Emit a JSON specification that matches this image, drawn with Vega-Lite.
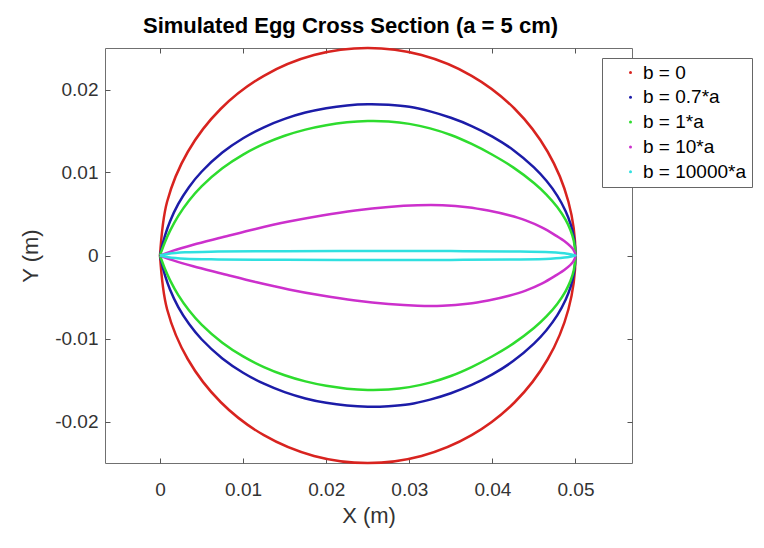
{
  "$schema": "https://vega.github.io/schema/vega-lite/v6.json",
  "width": 527,
  "height": 415,
  "autosize": {"type": "none"},
  "padding": {"left": 105, "top": 48, "right": 132, "bottom": 85},
  "background": "white",
  "title": {"text": "Simulated Egg Cross Section (a = 5 cm)", "fontSize": 22, "fontWeight": "bold", "font": "Liberation Sans", "color": "#000000", "anchor": "middle", "dx": -18, "offset": 5},
  "data": {"values": [
    {"b":"b = 0","i":0,"x":0,"y":0},
    {"b":"b = 0","i":1,"x":0.000852,"y":0.00647},
    {"b":"b = 0","i":2,"x":0.00335,"y":0.0125},
    {"b":"b = 0","i":3,"x":0.00732,"y":0.01768},
    {"b":"b = 0","i":4,"x":0.0125,"y":0.02165},
    {"b":"b = 0","i":5,"x":0.01853,"y":0.02415},
    {"b":"b = 0","i":6,"x":0.025,"y":0.025},
    {"b":"b = 0","i":7,"x":0.03147,"y":0.02415},
    {"b":"b = 0","i":8,"x":0.0375,"y":0.02165},
    {"b":"b = 0","i":9,"x":0.04268,"y":0.01768},
    {"b":"b = 0","i":10,"x":0.04665,"y":0.0125},
    {"b":"b = 0","i":11,"x":0.04915,"y":0.00647},
    {"b":"b = 0","i":12,"x":0.05,"y":0},
    {"b":"b = 0","i":13,"x":0.04915,"y":-0.00647},
    {"b":"b = 0","i":14,"x":0.04665,"y":-0.0125},
    {"b":"b = 0","i":15,"x":0.04268,"y":-0.01768},
    {"b":"b = 0","i":16,"x":0.0375,"y":-0.02165},
    {"b":"b = 0","i":17,"x":0.03147,"y":-0.02415},
    {"b":"b = 0","i":18,"x":0.025,"y":-0.025},
    {"b":"b = 0","i":19,"x":0.01853,"y":-0.02415},
    {"b":"b = 0","i":20,"x":0.0125,"y":-0.02165},
    {"b":"b = 0","i":21,"x":0.00732,"y":-0.01768},
    {"b":"b = 0","i":22,"x":0.00335,"y":-0.0125},
    {"b":"b = 0","i":23,"x":0.000852,"y":-0.00647},
    {"b":"b = 0","i":24,"x":0,"y":0},

    {"b":"b = 0.7*a","i":0,"x":0,"y":0},
    {"b":"b = 0.7*a","i":1,"x":0.0002,"y":0.00091},
    {"b":"b = 0.7*a","i":2,"x":0.0006,"y":0.00239},
    {"b":"b = 0.7*a","i":3,"x":0.0012,"y":0.00409},
    {"b":"b = 0.7*a","i":4,"x":0.0022,"y":0.00621},
    {"b":"b = 0.7*a","i":5,"x":0.0035,"y":0.00826},
    {"b":"b = 0.7*a","i":6,"x":0.005,"y":0.01009},
    {"b":"b = 0.7*a","i":7,"x":0.0075,"y":0.0124},
    {"b":"b = 0.7*a","i":8,"x":0.01,"y":0.01412},
    {"b":"b = 0.7*a","i":9,"x":0.0125,"y":0.01545},
    {"b":"b = 0.7*a","i":10,"x":0.015,"y":0.01646},
    {"b":"b = 0.7*a","i":11,"x":0.0175,"y":0.01722},
    {"b":"b = 0.7*a","i":12,"x":0.02,"y":0.01775},
    {"b":"b = 0.7*a","i":13,"x":0.0225,"y":0.01808},
    {"b":"b = 0.7*a","i":14,"x":0.025,"y":0.01822},
    {"b":"b = 0.7*a","i":15,"x":0.0275,"y":0.01816},
    {"b":"b = 0.7*a","i":16,"x":0.03,"y":0.01792},
    {"b":"b = 0.7*a","i":17,"x":0.0325,"y":0.01736},
    {"b":"b = 0.7*a","i":18,"x":0.035,"y":0.01659},
    {"b":"b = 0.7*a","i":19,"x":0.0375,"y":0.0156},
    {"b":"b = 0.7*a","i":20,"x":0.04,"y":0.01433},
    {"b":"b = 0.7*a","i":21,"x":0.0425,"y":0.01272},
    {"b":"b = 0.7*a","i":22,"x":0.045,"y":0.01062},
    {"b":"b = 0.7*a","i":23,"x":0.0465,"y":0.009},
    {"b":"b = 0.7*a","i":24,"x":0.0478,"y":0.00722},
    {"b":"b = 0.7*a","i":25,"x":0.0488,"y":0.00537},
    {"b":"b = 0.7*a","i":26,"x":0.0494,"y":0.00382},
    {"b":"b = 0.7*a","i":27,"x":0.0498,"y":0.00221},
    {"b":"b = 0.7*a","i":28,"x":0.05,"y":0},
    {"b":"b = 0.7*a","i":29,"x":0.0498,"y":-0.00221},
    {"b":"b = 0.7*a","i":30,"x":0.0494,"y":-0.00382},
    {"b":"b = 0.7*a","i":31,"x":0.0488,"y":-0.00537},
    {"b":"b = 0.7*a","i":32,"x":0.0478,"y":-0.00722},
    {"b":"b = 0.7*a","i":33,"x":0.0465,"y":-0.009},
    {"b":"b = 0.7*a","i":34,"x":0.045,"y":-0.01062},
    {"b":"b = 0.7*a","i":35,"x":0.0425,"y":-0.01272},
    {"b":"b = 0.7*a","i":36,"x":0.04,"y":-0.01433},
    {"b":"b = 0.7*a","i":37,"x":0.0375,"y":-0.0156},
    {"b":"b = 0.7*a","i":38,"x":0.035,"y":-0.01659},
    {"b":"b = 0.7*a","i":39,"x":0.0325,"y":-0.01736},
    {"b":"b = 0.7*a","i":40,"x":0.03,"y":-0.01792},
    {"b":"b = 0.7*a","i":41,"x":0.0275,"y":-0.01816},
    {"b":"b = 0.7*a","i":42,"x":0.025,"y":-0.01822},
    {"b":"b = 0.7*a","i":43,"x":0.0225,"y":-0.01808},
    {"b":"b = 0.7*a","i":44,"x":0.02,"y":-0.01775},
    {"b":"b = 0.7*a","i":45,"x":0.0175,"y":-0.01722},
    {"b":"b = 0.7*a","i":46,"x":0.015,"y":-0.01646},
    {"b":"b = 0.7*a","i":47,"x":0.0125,"y":-0.01545},
    {"b":"b = 0.7*a","i":48,"x":0.01,"y":-0.01412},
    {"b":"b = 0.7*a","i":49,"x":0.0075,"y":-0.0124},
    {"b":"b = 0.7*a","i":50,"x":0.005,"y":-0.01009},
    {"b":"b = 0.7*a","i":51,"x":0.0035,"y":-0.00826},
    {"b":"b = 0.7*a","i":52,"x":0.0022,"y":-0.00621},
    {"b":"b = 0.7*a","i":53,"x":0.0012,"y":-0.00409},
    {"b":"b = 0.7*a","i":54,"x":0.0006,"y":-0.00239},
    {"b":"b = 0.7*a","i":55,"x":0.0002,"y":-0.00091},
    {"b":"b = 0.7*a","i":56,"x":0,"y":0},

    {"b":"b = 1*a","i":0,"x":0,"y":0},
    {"b":"b = 1*a","i":1,"x":0.0002,"y":0.00058},
    {"b":"b = 1*a","i":2,"x":0.0006,"y":0.00163},
    {"b":"b = 1*a","i":3,"x":0.0012,"y":0.00296},
    {"b":"b = 1*a","i":4,"x":0.0022,"y":0.00477},
    {"b":"b = 1*a","i":5,"x":0.0035,"y":0.00663},
    {"b":"b = 1*a","i":6,"x":0.005,"y":0.00833},
    {"b":"b = 1*a","i":7,"x":0.0075,"y":0.01051},
    {"b":"b = 1*a","i":8,"x":0.01,"y":0.01216},
    {"b":"b = 1*a","i":9,"x":0.0125,"y":0.01344},
    {"b":"b = 1*a","i":10,"x":0.015,"y":0.01443},
    {"b":"b = 1*a","i":11,"x":0.0175,"y":0.01517},
    {"b":"b = 1*a","i":12,"x":0.02,"y":0.0157},
    {"b":"b = 1*a","i":13,"x":0.0225,"y":0.01604},
    {"b":"b = 1*a","i":14,"x":0.025,"y":0.01619},
    {"b":"b = 1*a","i":15,"x":0.0275,"y":0.01614},
    {"b":"b = 1*a","i":16,"x":0.03,"y":0.01586},
    {"b":"b = 1*a","i":17,"x":0.0325,"y":0.01532},
    {"b":"b = 1*a","i":18,"x":0.035,"y":0.01452},
    {"b":"b = 1*a","i":19,"x":0.0375,"y":0.01344},
    {"b":"b = 1*a","i":20,"x":0.04,"y":0.01214},
    {"b":"b = 1*a","i":21,"x":0.0425,"y":0.01062},
    {"b":"b = 1*a","i":22,"x":0.045,"y":0.00874},
    {"b":"b = 1*a","i":23,"x":0.0465,"y":0.00734},
    {"b":"b = 1*a","i":24,"x":0.0478,"y":0.00583},
    {"b":"b = 1*a","i":25,"x":0.0488,"y":0.00431},
    {"b":"b = 1*a","i":26,"x":0.0494,"y":0.00305},
    {"b":"b = 1*a","i":27,"x":0.0498,"y":0.00176},
    {"b":"b = 1*a","i":28,"x":0.05,"y":0},
    {"b":"b = 1*a","i":29,"x":0.0498,"y":-0.00176},
    {"b":"b = 1*a","i":30,"x":0.0494,"y":-0.00305},
    {"b":"b = 1*a","i":31,"x":0.0488,"y":-0.00431},
    {"b":"b = 1*a","i":32,"x":0.0478,"y":-0.00583},
    {"b":"b = 1*a","i":33,"x":0.0465,"y":-0.00734},
    {"b":"b = 1*a","i":34,"x":0.045,"y":-0.00874},
    {"b":"b = 1*a","i":35,"x":0.0425,"y":-0.01062},
    {"b":"b = 1*a","i":36,"x":0.04,"y":-0.01214},
    {"b":"b = 1*a","i":37,"x":0.0375,"y":-0.01344},
    {"b":"b = 1*a","i":38,"x":0.035,"y":-0.01452},
    {"b":"b = 1*a","i":39,"x":0.0325,"y":-0.01532},
    {"b":"b = 1*a","i":40,"x":0.03,"y":-0.01586},
    {"b":"b = 1*a","i":41,"x":0.0275,"y":-0.01614},
    {"b":"b = 1*a","i":42,"x":0.025,"y":-0.01619},
    {"b":"b = 1*a","i":43,"x":0.0225,"y":-0.01604},
    {"b":"b = 1*a","i":44,"x":0.02,"y":-0.0157},
    {"b":"b = 1*a","i":45,"x":0.0175,"y":-0.01517},
    {"b":"b = 1*a","i":46,"x":0.015,"y":-0.01443},
    {"b":"b = 1*a","i":47,"x":0.0125,"y":-0.01344},
    {"b":"b = 1*a","i":48,"x":0.01,"y":-0.01216},
    {"b":"b = 1*a","i":49,"x":0.0075,"y":-0.01051},
    {"b":"b = 1*a","i":50,"x":0.005,"y":-0.00833},
    {"b":"b = 1*a","i":51,"x":0.0035,"y":-0.00663},
    {"b":"b = 1*a","i":52,"x":0.0022,"y":-0.00477},
    {"b":"b = 1*a","i":53,"x":0.0012,"y":-0.00296},
    {"b":"b = 1*a","i":54,"x":0.0006,"y":-0.00163},
    {"b":"b = 1*a","i":55,"x":0.0002,"y":-0.00058},
    {"b":"b = 1*a","i":56,"x":0,"y":0},

    {"b":"b = 10*a","i":0,"x":0,"y":0},
    {"b":"b = 10*a","i":1,"x":0.0015,"y":0.00055},
    {"b":"b = 10*a","i":2,"x":0.004,"y":0.0013},
    {"b":"b = 10*a","i":3,"x":0.0075,"y":0.00219},
    {"b":"b = 10*a","i":4,"x":0.0115,"y":0.0032},
    {"b":"b = 10*a","i":5,"x":0.0155,"y":0.00409},
    {"b":"b = 10*a","i":6,"x":0.0195,"y":0.00483},
    {"b":"b = 10*a","i":7,"x":0.0235,"y":0.00543},
    {"b":"b = 10*a","i":8,"x":0.0275,"y":0.00585},
    {"b":"b = 10*a","i":9,"x":0.031,"y":0.00605},
    {"b":"b = 10*a","i":10,"x":0.034,"y":0.00605},
    {"b":"b = 10*a","i":11,"x":0.037,"y":0.00582},
    {"b":"b = 10*a","i":12,"x":0.0395,"y":0.00541},
    {"b":"b = 10*a","i":13,"x":0.042,"y":0.00484},
    {"b":"b = 10*a","i":14,"x":0.044,"y":0.00423},
    {"b":"b = 10*a","i":15,"x":0.046,"y":0.00336},
    {"b":"b = 10*a","i":16,"x":0.0475,"y":0.00249},
    {"b":"b = 10*a","i":17,"x":0.0488,"y":0.00163},
    {"b":"b = 10*a","i":18,"x":0.0497,"y":0.00077},
    {"b":"b = 10*a","i":19,"x":0.05,"y":0},
    {"b":"b = 10*a","i":20,"x":0.0497,"y":-0.00077},
    {"b":"b = 10*a","i":21,"x":0.0488,"y":-0.00163},
    {"b":"b = 10*a","i":22,"x":0.0475,"y":-0.00249},
    {"b":"b = 10*a","i":23,"x":0.046,"y":-0.00336},
    {"b":"b = 10*a","i":24,"x":0.044,"y":-0.00423},
    {"b":"b = 10*a","i":25,"x":0.042,"y":-0.00484},
    {"b":"b = 10*a","i":26,"x":0.0395,"y":-0.00541},
    {"b":"b = 10*a","i":27,"x":0.037,"y":-0.00582},
    {"b":"b = 10*a","i":28,"x":0.034,"y":-0.00605},
    {"b":"b = 10*a","i":29,"x":0.031,"y":-0.00605},
    {"b":"b = 10*a","i":30,"x":0.0275,"y":-0.00585},
    {"b":"b = 10*a","i":31,"x":0.0235,"y":-0.00543},
    {"b":"b = 10*a","i":32,"x":0.0195,"y":-0.00483},
    {"b":"b = 10*a","i":33,"x":0.0155,"y":-0.00409},
    {"b":"b = 10*a","i":34,"x":0.0115,"y":-0.0032},
    {"b":"b = 10*a","i":35,"x":0.0075,"y":-0.00219},
    {"b":"b = 10*a","i":36,"x":0.004,"y":-0.0013},
    {"b":"b = 10*a","i":37,"x":0.0015,"y":-0.00055},
    {"b":"b = 10*a","i":38,"x":0,"y":0},

    {"b":"b = 10000*a","i":0,"x":0,"y":0},
    {"b":"b = 10000*a","i":1,"x":0.001,"y":0.0002},
    {"b":"b = 10000*a","i":2,"x":0.003,"y":0.00038},
    {"b":"b = 10000*a","i":3,"x":0.007,"y":0.00047},
    {"b":"b = 10000*a","i":4,"x":0.015,"y":0.00052},
    {"b":"b = 10000*a","i":5,"x":0.025,"y":0.00054},
    {"b":"b = 10000*a","i":6,"x":0.035,"y":0.00053},
    {"b":"b = 10000*a","i":7,"x":0.043,"y":0.00048},
    {"b":"b = 10000*a","i":8,"x":0.047,"y":0.00038},
    {"b":"b = 10000*a","i":9,"x":0.049,"y":0.00022},
    {"b":"b = 10000*a","i":10,"x":0.05,"y":0},
    {"b":"b = 10000*a","i":11,"x":0.049,"y":-0.00022},
    {"b":"b = 10000*a","i":12,"x":0.047,"y":-0.00038},
    {"b":"b = 10000*a","i":13,"x":0.043,"y":-0.00048},
    {"b":"b = 10000*a","i":14,"x":0.035,"y":-0.00053},
    {"b":"b = 10000*a","i":15,"x":0.025,"y":-0.00054},
    {"b":"b = 10000*a","i":16,"x":0.015,"y":-0.00052},
    {"b":"b = 10000*a","i":17,"x":0.007,"y":-0.00047},
    {"b":"b = 10000*a","i":18,"x":0.003,"y":-0.00038},
    {"b":"b = 10000*a","i":19,"x":0.001,"y":-0.0002},
    {"b":"b = 10000*a","i":20,"x":0,"y":0}
  ]},
  "layer": [
    {
      "mark": {"type": "line", "interpolate": "catmull-rom", "strokeWidth": 2.5},
      "encoding": {
        "x": {"field": "x", "type": "quantitative", "scale": {"domain": [-0.00662, 0.0568], "nice": false, "zero": false},
          "axis": {"orient": "bottom", "values": [0, 0.01, 0.02, 0.03, 0.04, 0.05], "labelExpr": "'' + datum.value", "labelPadding": 22, "title": "X (m)", "titlePadding": 6}},
        "y": {"field": "y", "type": "quantitative", "scale": {"domain": [-0.025, 0.025], "nice": false, "zero": false},
          "axis": {"orient": "left", "values": [-0.02, -0.01, 0, 0.01, 0.02], "labelExpr": "'' + datum.value", "labelPadding": 12, "title": "Y (m)", "titlePadding": 12}},
        "order": {"field": "i", "type": "quantitative"},
        "color": {"field": "b", "type": "nominal",
          "scale": {"domain": ["b = 0", "b = 0.7*a", "b = 1*a", "b = 10*a", "b = 10000*a"], "range": ["#d8231f", "#1c1ca8", "#2edc2e", "#cc30cc", "#30e0e0"]},
          "legend": {"orient": "none", "legendX": 497, "legendY": 10, "title": null, "symbolType": "circle", "symbolSize": 9, "symbolOffset": 14, "labelOffset": 3,
            "labelFontSize": 19, "labelFont": "Liberation Sans", "labelColor": "#000000", "strokeColor": "#666666", "fillColor": "white", "padding": 5, "rowPadding": 4.8,
            "encode": {"symbols": {"update": {"fill": {"scale": "color", "field": "value"}, "strokeWidth": {"value": 0}, "opacity": {"value": 1}}}}}
        }
      }
    },
    {
      "mark": {"type": "line", "opacity": 0},
      "encoding": {
        "x": {"field": "x", "type": "quantitative", "scale": {"domain": [-0.00662, 0.0568], "nice": false, "zero": false},
          "axis": {"orient": "top", "values": [0, 0.01, 0.02, 0.03, 0.04, 0.05], "labels": false, "title": null}},
        "y": {"field": "y", "type": "quantitative", "scale": {"domain": [-0.025, 0.025], "nice": false, "zero": false},
          "axis": {"orient": "right", "values": [-0.02, -0.01, 0, 0.01, 0.02], "labels": false, "title": null}},
        "order": {"field": "i", "type": "quantitative"},
        "detail": {"field": "b", "type": "nominal"}
      }
    }
  ],
  "resolve": {"axis": {"x": "independent", "y": "independent"}},
  "config": {
    "view": {"stroke": "#707070", "strokeWidth": 1},
    "axis": {"domain": false, "grid": false, "ticks": true, "tickSize": -5, "tickColor": "#555555", "labelFlush": false, "labelOverlap": false,
      "labelFont": "Liberation Sans", "labelFontSize": 19, "labelColor": "#333333",
      "titleFont": "Liberation Sans", "titleFontSize": 22, "titleFontWeight": "normal", "titleColor": "#333333"}
  }
}
